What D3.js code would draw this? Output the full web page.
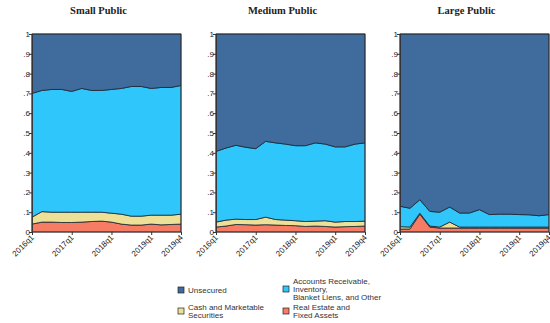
<html lang="en">
<head>
<meta charset="UTF-8"/>
<title>Collateral shares by firm size</title>
<script src="https://d3js.org/d3.v7.min.js"></script>
<style>
    body { margin: 0; background: #fff; }
    text { font-family: "Liberation Sans", Arial, sans-serif; }
</style>
</head>
<body>
<script>
    // quarters 2016q1 .. 2019q4
    var quarters = [];
    [2016, 2017, 2018, 2019].forEach(function(y){
        for (var q = 1; q <= 4; q++) quarters.push(y + "q" + q);
    });
    var tickQuarters = ["2016q1", "2017q1", "2018q1", "2019q1", "2019q4"];
    var yTicks = [0, .1, .2, .3, .4, .5, .6, .7, .8, .9, 1];

    var panelTitles = ["Small Public", "Medium Public", "Large Public"];

    // shares of each collateral type
    var smallRealEstate = [0.040,0.050,0.050,0.048,0.048,0.050,0.053,0.055,0.050,0.040,0.035,0.035,0.040,0.036,0.038,0.040];
    var smallCash       = [0.035,0.053,0.050,0.052,0.052,0.050,0.047,0.045,0.045,0.050,0.045,0.045,0.045,0.049,0.047,0.050];
    var smallAccounts   = [0.625,0.612,0.620,0.620,0.610,0.625,0.615,0.615,0.625,0.635,0.655,0.655,0.640,0.645,0.645,0.650];
    var smallUnsecured  = [0.300,0.285,0.280,0.280,0.290,0.275,0.285,0.285,0.280,0.275,0.265,0.265,0.275,0.270,0.270,0.260];

    var mediumRealEstate = [0.025,0.030,0.038,0.037,0.035,0.037,0.035,0.033,0.032,0.028,0.030,0.028,0.025,0.027,0.028,0.030];
    var mediumCash       = [0.025,0.030,0.027,0.026,0.028,0.038,0.028,0.027,0.025,0.025,0.025,0.029,0.025,0.026,0.025,0.025];
    var mediumAccounts   = [0.357,0.364,0.373,0.365,0.358,0.383,0.387,0.384,0.379,0.383,0.395,0.387,0.380,0.377,0.391,0.395];
    var mediumUnsecured  = [0.593,0.576,0.562,0.572,0.579,0.542,0.550,0.556,0.564,0.564,0.550,0.556,0.570,0.570,0.556,0.550];

    var largeRealEstate = [0.015,0.015,0.090,0.025,0.020,0.020,0.020,0.020,0.020,0.020,0.020,0.020,0.020,0.020,0.020,0.020];
    var largeCash       = [0.012,0.010,0.005,0.005,0.005,0.030,0.005,0.005,0.005,0.005,0.005,0.005,0.005,0.005,0.005,0.005];
    var largeAccounts   = [0.103,0.095,0.068,0.074,0.075,0.076,0.071,0.071,0.088,0.063,0.065,0.065,0.063,0.062,0.057,0.063];
    var largeUnsecured  = [0.870,0.880,0.837,0.896,0.900,0.874,0.904,0.904,0.887,0.912,0.910,0.910,0.912,0.913,0.918,0.912];

    var keys = ["realEstate", "cash", "accounts", "unsecured"];
    var colors = {
        unsecured: "#3f6c9d",
        accounts: "#2fc7fb",
        cash: "#ece196",
        realEstate: "#f67c64"
    };

    function buildRows(re, cash, acc, uns){
        return quarters.map(function(q, i){
            return { q: q, realEstate: re[i], cash: cash[i], accounts: acc[i], unsecured: uns[i] };
        });
    }
    var panels = [
        buildRows(smallRealEstate, smallCash, smallAccounts, smallUnsecured),
        buildRows(mediumRealEstate, mediumCash, mediumAccounts, mediumUnsecured),
        buildRows(largeRealEstate, largeCash, largeAccounts, largeUnsecured)
    ];

    var w = 550, h = 323;
    var plotW = 149, plotTop = 34, plotBottom = 232;
    var lefts = [32, 216, 400];

    var svg = d3.select("body").append("svg")
        .attr("width", w)
        .attr("height", h);

    var stack = d3.stack().keys(keys);
    var yScale = d3.scaleLinear().domain([0, 1]).range([plotBottom, plotTop]);

    panels.forEach(function(rows, p){
        var x0 = lefts[p];
        var xScale = d3.scalePoint().domain(quarters).range([x0, x0 + plotW]);
        var g = svg.append("g");

        var area = d3.area()
            .x(function(d){ return xScale(d.data.q); })
            .y0(function(d){ return yScale(d[0]); })
            .y1(function(d){ return yScale(d[1]); });

        g.selectAll("path.layer")
            .data(stack(rows))
            .enter()
            .append("path")
            .attr("class", "layer")
            .attr("fill", function(d){ return colors[d.key]; })
            .attr("stroke", "#1b2330")
            .attr("stroke-width", 0.8)
            .attr("stroke-linejoin", "round")
            .attr("d", area);

        // frame
        g.append("rect")
            .attr("x", x0).attr("y", plotTop)
            .attr("width", plotW).attr("height", plotBottom - plotTop)
            .attr("fill", "none")
            .attr("stroke", "#333")
            .attr("stroke-width", 0.8);

        var yAxis = d3.axisLeft(yScale)
            .tickValues(yTicks)
            .tickSize(3)
            .tickFormat(function(d){ return d === 0 ? "0" : d === 1 ? "1" : d3.format(".1f")(d).replace(/^0/, ""); });
        var ya = g.append("g").attr("transform", "translate(" + x0 + ",0)").call(yAxis);
        ya.select(".domain").attr("stroke", "#333").attr("stroke-width", 0.8);
        ya.selectAll(".tick line").attr("stroke", "#333");
        ya.selectAll("text").attr("font-size", 8).attr("fill", "#222").attr("x", -2);

        var xAxis = d3.axisBottom(xScale)
            .tickValues(tickQuarters)
            .tickSize(3);
        var xa = g.append("g").attr("transform", "translate(0," + plotBottom + ")").call(xAxis);
        xa.select(".domain").remove();
        xa.selectAll(".tick line").attr("stroke", "#333");
        xa.selectAll("text")
            .attr("font-size", 8)
            .attr("fill", "#222")
            .attr("text-anchor", "end")
            .attr("dy", 0)
            .attr("y", 0)
            .attr("transform", "translate(2,6) rotate(-45)");

        svg.append("text")
            .attr("x", x0 + plotW / 2 - 8)
            .attr("y", 14)
            .attr("text-anchor", "middle")
            .attr("font-weight", "bold")
            .attr("font-size", 10.5)
            .attr("fill", "#222")
            .style("font-family", "'Liberation Serif', serif")
            .text(panelTitles[p]);
    });

    // legend
    var legendItems = [
        { key: "unsecured", lines: ["Unsecured"], x: 178, y: 290 },
        { key: "accounts", lines: ["Accounts Receivable,", "Inventory,", "Blanket Liens, and Other"], x: 283, y: 289 },
        { key: "cash", lines: ["Cash and Marketable", "Securities"], x: 178, y: 311 },
        { key: "realEstate", lines: ["Real Estate and", "Fixed Assets"], x: 283, y: 311 }
    ];
    var lg = svg.append("g");
    legendItems.forEach(function(it){
        lg.append("rect")
            .attr("x", it.x).attr("y", it.y - 3)
            .attr("width", 6).attr("height", 6)
            .attr("fill", colors[it.key])
            .attr("stroke", "#222")
            .attr("stroke-width", 0.7);
        var n = it.lines.length;
        var t = lg.append("text")
            .attr("x", it.x + 10)
            .attr("font-size", 8)
            .attr("fill", "#333");
        it.lines.forEach(function(s, i){
            t.append("tspan")
                .attr("x", it.x + 10)
                .attr("y", it.y + 3 + (i - (n - 1) / 2) * 8.3)
                .text(s);
        });
    });
</script>
</body>
</html>
